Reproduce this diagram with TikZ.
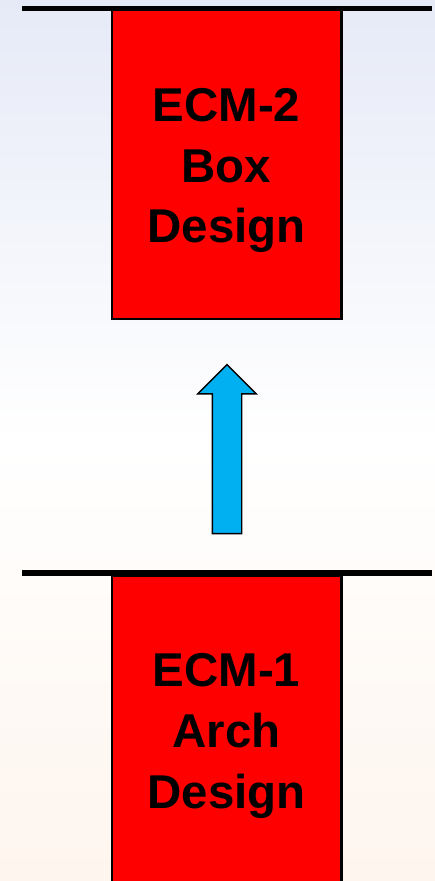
\documentclass[tikz,border=0pt]{standalone}
\usepackage{fontspec}
\setmainfont{Liberation Sans}
\usetikzlibrary{shapes.arrows}
\definecolor{ecmred}{RGB}{255,0,0}
\definecolor{upblue}{RGB}{0,176,240}
\definecolor{bgtop}{RGB}{230,234,247}
\definecolor{bgbot}{RGB}{254,245,238}
\tikzset{
  ecmbox/.style={draw=black, line width=1.7pt, fill=ecmred, minimum width=4.58cm},
  ecmtext/.style={align=center, font=\fontsize{27}{34.5}\selectfont\bfseries},
  bar/.style={line width=3.4pt},
  uparrow/.style={draw=black, line width=0.8pt, fill=upblue, single arrow,
    shape border rotate=90, inner sep=0.28cm, minimum height=3.38cm,
    single arrow head extend=0.29cm, single arrow tip angle=90}
}
\begin{document}
\begin{tikzpicture}
\useasboundingbox[top color=bgtop, bottom color=bgbot, middle color=white] (0,0) rectangle (8.7,-17.62);
\path node[ecmbox, minimum height=6.18cm] (box2) at (4.53,-3.29) {}
node[ecmbox, minimum height=6.24cm] (box1) at (4.53,-14.64) {}
node[ecmtext] (txt2) at (4.53,-3.41) {ECM-2\\Box\\Design}
node[ecmtext] (txt1) at (4.53,-14.72) {ECM-1\\Arch\\Design}
node[uparrow] (up) at (4.54,-9.13) {}
;
\coordinate (t2l) at (0.44,-0.17);
\coordinate (t2r) at (8.64,-0.17);
\coordinate (t1l) at (0.44,-11.46);
\coordinate (t1r) at (8.64,-11.46);
\draw[bar]   (t2l) -- (t2r);
\draw[bar]   (t1l) -- (t1r);
\end{tikzpicture}
\end{document}
